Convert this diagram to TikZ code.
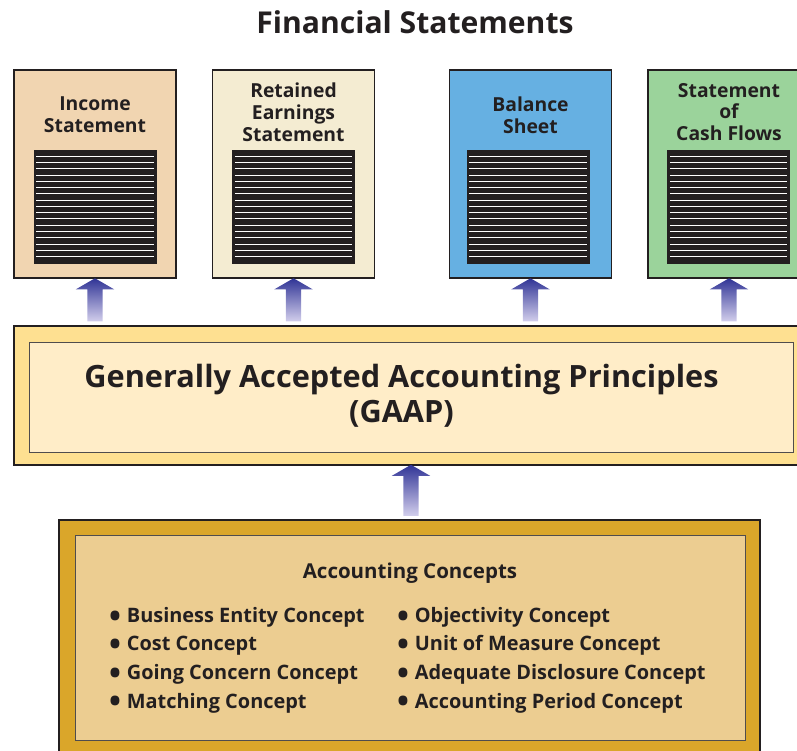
\documentclass[tikz,border=0pt]{standalone}
\usepackage{fontspec}
\setmainfont{Open Sans}
\definecolor{incometan}{RGB}{241,213,177}
\definecolor{retainedcream}{RGB}{244,236,210}
\definecolor{balanceblue}{RGB}{102,176,226}
\definecolor{cashgreen}{RGB}{155,211,155}
\definecolor{gaapgold}{RGB}{254,224,145}
\definecolor{gaaplight}{RGB}{255,237,200}
\definecolor{conceptgold}{RGB}{218,166,42}
\definecolor{conceptsand}{RGB}{236,205,145}
\definecolor{arrowdark}{RGB}{48,52,150}
\definecolor{arrowlight}{RGB}{210,206,236}
\definecolor{inkgray}{RGB}{35,31,32}
\usetikzlibrary{shapes.arrows, positioning}
\newcommand{\conceptdot}{{\fontsize{27}{0}\selectfont\raisebox{-0.28ex}{\textbullet}}\hspace{5pt}}

\begin{document}
\begin{tikzpicture}[
    x=0.3mm, y=-0.3mm,
    stmt/.style={rectangle, draw=inkgray, line width=1.6pt, minimum width=48.6mm, minimum height=62.4mm, inner sep=0pt},
    sheet/.style={rectangle, draw=inkgray, fill=inkgray, line width=0.8pt, minimum width=36.6mm, minimum height=33.9mm, inner sep=0pt,
        path picture={\foreach \k in {1,...,17} \draw[white, line width=0.75pt] ([xshift=0.7mm, yshift=-\k*1.88mm]path picture bounding box.north west) -- ([xshift=-0.7mm, yshift=-\k*1.88mm]path picture bounding box.north east);}},
    stmtlabel/.style={font=\bfseries\fontsize{16.5}{18.6}\selectfont, align=center, text=inkgray},
    uparrow/.style={single arrow, shape border rotate=90, draw=none, inner sep=2.25mm, minimum height=12.9mm, single arrow head extend=3.45mm, single arrow tip angle=120, top color=arrowdark, bottom color=arrowlight},
    frame/.style={rectangle, draw=inkgray, line width=1.6pt, inner sep=0pt},
    innerframe/.style={rectangle, draw=inkgray!80, line width=0.8pt, inner sep=0pt},
    conceptlist/.style={font=\bfseries\fontsize{17}{24.4}\selectfont, text=inkgray, align=left, anchor=west}
]
    \useasboundingbox (0,0) rectangle (797,751);

    % Title
    \node[font=\bfseries\fontsize{25.7}{30}\selectfont, text=inkgray] (title) at (415,22) {Financial Statements};

    % Financial statements
    \node[stmt, fill=incometan] (inc) at (95,174) {};
    \node[stmt, fill=retainedcream] (ret) at (293.5,174) {};
    \node[stmt, fill=balanceblue] (bal) at (530.5,174) {};
    \node[stmt, fill=cashgreen] (cash) at (729,174) {};

    \node[stmtlabel] (incText) at (95,115) {Income\\Statement};
    \node[stmtlabel] (retText) at (293.5,112) {Retained\\Earnings\\Statement};
    \node[stmtlabel] (balText) at (530.5,115) {Balance\\Sheet};
    \node[stmtlabel] (cashText) at (729,112) {Statement\\of\\Cash Flows};

    \node[sheet] (incSheet) at (95,206.5) {};
    \node[sheet] (retSheet) at (293.5,206.5) {};
    \node[sheet] (balSheet) at (528,206.5) {};
    \node[sheet] (cashSheet) at (728.5,206.5) {};

    % GAAP
    \node[frame, fill=gaapgold, minimum width=244.8mm, minimum height=41.7mm] (gaap) at (422,395.5) {};
    \node[innerframe, fill=gaaplight, minimum width=229.2mm, minimum height=33mm] (gaapIn) at (411,397) {};
    \node[font=\bfseries\fontsize{26.2}{30}\selectfont, text=inkgray, align=center] (gaapText) at (401.5,396)
          {Generally Accepted Accounting Principles\\(GAAP)};

    % Accounting concepts
    \node[frame, fill=conceptgold, minimum width=210.3mm, minimum height=75mm] (concepts) at (409.5,645) {};
    \node[innerframe, fill=conceptsand, minimum width=201mm, minimum height=61.5mm] (conceptsIn) at (410,637.5) {};
    \node[font=\bfseries\fontsize{17.5}{20}\selectfont, text=inkgray] (conceptsTitle) at (410,573) {Accounting Concepts};
    \node[conceptlist] (leftList) at (105,660)
        {\conceptdot Business Entity Concept\\\conceptdot Cost Concept\\\conceptdot Going Concern Concept\\\conceptdot Matching Concept};
    \node[conceptlist] (rightList) at (393,660)
        {\conceptdot Objectivity Concept\\\conceptdot Unit of Measure Concept\\\conceptdot Adequate Disclosure Concept\\\conceptdot Accounting Period Concept};

    % Arrows
    \path (inc.south) -- (inc.south |- gaap.north) node[midway, uparrow] {};
    \path (ret.south) -- (ret.south |- gaap.north) node[midway, uparrow] {};
    \path (bal.south) -- (bal.south |- gaap.north) node[midway, uparrow] {};
    \path (cash.south) -- (cash.south |- gaap.north) node[midway, uparrow] {};
    \path (gaapIn.south |- concepts.north) -- (gaapIn.south |- gaap.south) node[midway, uparrow, minimum height=15.3mm] {};

\end{tikzpicture}
\end{document}
